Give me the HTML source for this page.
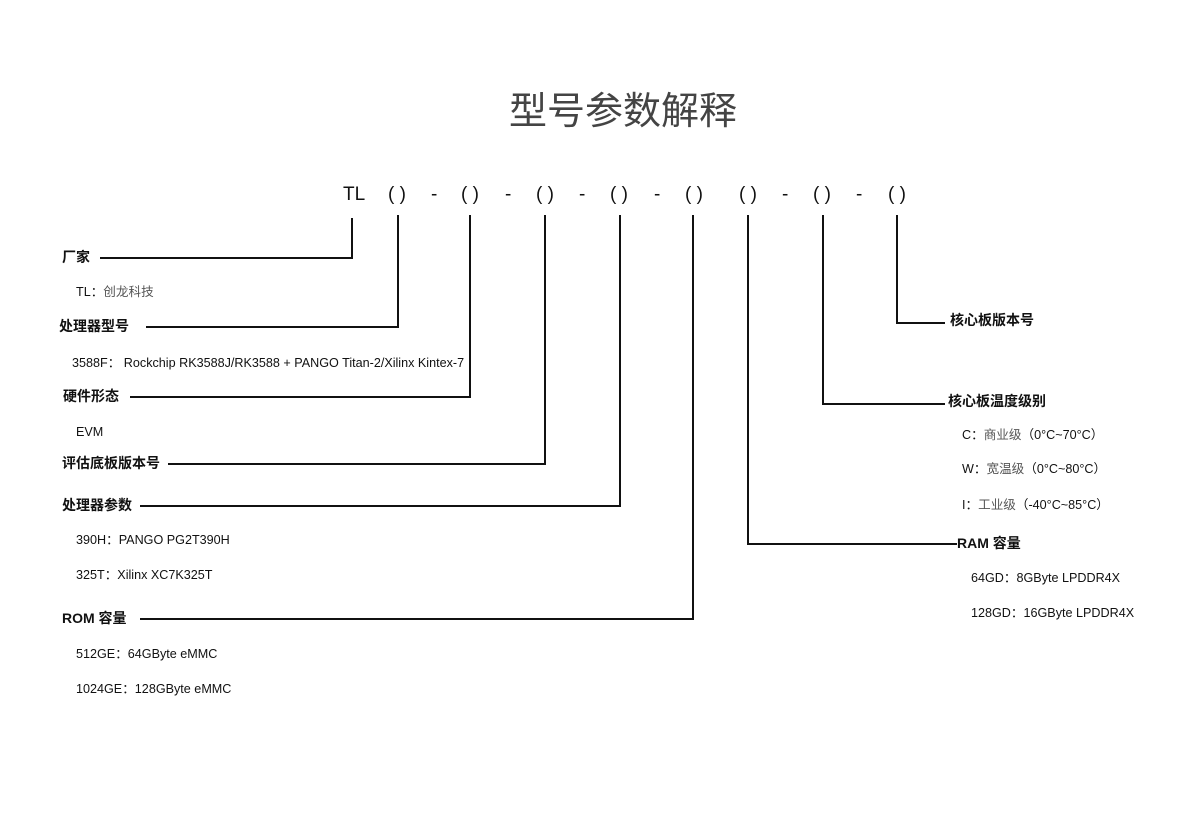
<!DOCTYPE html>
<html><head><meta charset="utf-8"><style>
body{margin:0;width:1200px;height:840px;background:#fff;position:relative;overflow:hidden;font-family:"Liberation Sans","Noto Sans CJK SC",sans-serif;color:#111}
.t{position:absolute;white-space:nowrap;font-size:12.6px;line-height:14px}
.b{font-weight:bold;font-size:14px}
.c{color:#555}
.h{position:absolute;background:#111;height:2px}
.v{position:absolute;background:#111;width:2px}
.p{position:absolute;white-space:nowrap;top:184px;font-size:19px;line-height:22px}
</style></head><body>
<div class="t" style="left:0;width:1246px;text-align:center;top:90px;font-size:38px;line-height:44px;color:#444">型号参数解释</div>
<div class="p" style="left:343px">TL</div>
<div class="p" style="left:388px">( )</div>
<div class="p" style="left:461px">( )</div>
<div class="p" style="left:536px">( )</div>
<div class="p" style="left:610px">( )</div>
<div class="p" style="left:685px">( )</div>
<div class="p" style="left:739px">( )</div>
<div class="p" style="left:813px">( )</div>
<div class="p" style="left:888px">( )</div>
<div class="p" style="left:431px">-</div>
<div class="p" style="left:505px">-</div>
<div class="p" style="left:579px">-</div>
<div class="p" style="left:654px">-</div>
<div class="p" style="left:782px">-</div>
<div class="p" style="left:856px">-</div>

<div class="v" style="left:351px;top:218px;height:41px"></div>
<div class="v" style="left:397px;top:215px;height:113px"></div>
<div class="v" style="left:469px;top:215px;height:183px"></div>
<div class="v" style="left:544px;top:215px;height:250px"></div>
<div class="v" style="left:619px;top:215px;height:292px"></div>
<div class="v" style="left:692px;top:215px;height:405px"></div>
<div class="v" style="left:747px;top:215px;height:330px"></div>
<div class="v" style="left:822px;top:215px;height:190px"></div>
<div class="v" style="left:896px;top:215px;height:109px"></div>

<div class="h" style="left:100px;top:257px;width:253px"></div>
<div class="h" style="left:146px;top:326px;width:253px"></div>
<div class="h" style="left:130px;top:396px;width:341px"></div>
<div class="h" style="left:168px;top:463px;width:378px"></div>
<div class="h" style="left:140px;top:505px;width:481px"></div>
<div class="h" style="left:140px;top:618px;width:554px"></div>
<div class="h" style="left:896px;top:322px;width:49px"></div>
<div class="h" style="left:822px;top:403px;width:123px"></div>
<div class="h" style="left:747px;top:543px;width:210px"></div>

<div class="t b" style="left:62px;top:250px">厂家</div>
<div class="t" style="left:76px;top:285px">TL：<span class="c">创龙科技</span></div>
<div class="t b" style="left:59px;top:319px">处理器型号</div>
<div class="t" style="left:72px;top:356px">3588F： Rockchip RK3588J/RK3588 + PANGO Titan-2/Xilinx Kintex-7</div>
<div class="t b" style="left:63px;top:389px">硬件形态</div>
<div class="t" style="left:76px;top:425px">EVM</div>
<div class="t b" style="left:62px;top:456px">评估底板版本号</div>
<div class="t b" style="left:62px;top:498px">处理器参数</div>
<div class="t" style="left:76px;top:533px">390H：PANGO PG2T390H</div>
<div class="t" style="left:76px;top:568px">325T：Xilinx XC7K325T</div>
<div class="t b" style="left:62px;top:611px">ROM 容量</div>
<div class="t" style="left:76px;top:647px">512GE：64GByte eMMC</div>
<div class="t" style="left:76px;top:682px">1024GE：128GByte eMMC</div>

<div class="t b" style="left:950px;top:313px">核心板版本号</div>
<div class="t b" style="left:948px;top:394px">核心板温度级别</div>
<div class="t" style="left:962px;top:428px">C：<span class="c">商业级</span>（0°C~70°C）</div>
<div class="t" style="left:962px;top:462px">W：<span class="c">宽温级</span>（0°C~80°C）</div>
<div class="t" style="left:962px;top:498px">I：<span class="c">工业级</span>（-40°C~85°C）</div>
<div class="t b" style="left:957px;top:536px">RAM 容量</div>
<div class="t" style="left:971px;top:571px">64GD：8GByte LPDDR4X</div>
<div class="t" style="left:971px;top:606px">128GD：16GByte LPDDR4X</div>
</body></html>
